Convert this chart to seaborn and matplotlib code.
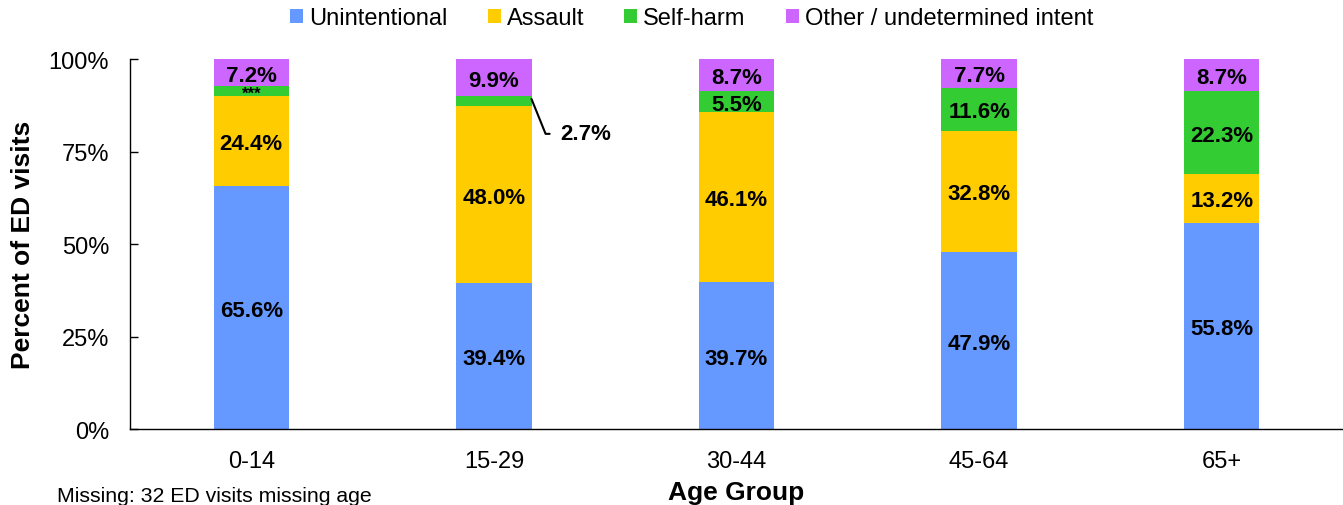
import matplotlib
matplotlib.use("Agg")
import matplotlib.pyplot as plt
import seaborn as sns
import pandas as pd
import numpy as np
from matplotlib.patches import Patch

age_groups = ["0-14", "15-29", "30-44", "45-64", "65+"]
unintentional = [65.6, 39.4, 39.7, 47.9, 55.8]
assault = [24.4, 48.0, 46.1, 32.8, 13.2]
self_harm = [2.8, 2.7, 5.5, 11.6, 22.3]
other = [7.2, 9.9, 8.7, 7.7, 8.7]
series_names = ["Unintentional", "Assault", "Self-harm", "Other / undetermined intent"]
colors = ["#6699FF", "#FFCC00", "#33CC33", "#CC66FF"]

sns.set_style("white")
plt.rcParams["font.family"] = ["Liberation Sans", "DejaVu Sans"]
plt.rcParams["text.color"] = "black"
plt.rcParams["axes.labelcolor"] = "black"
plt.rcParams["xtick.color"] = "black"
plt.rcParams["ytick.color"] = "black"

fig = plt.figure(figsize=(13.43, 5.06), dpi=100)
ax = fig.add_axes([0.0968, 0.150, 0.9032, 0.731])

series = [unintentional, assault, self_harm, other]
cum = np.cumsum(np.array(series), axis=0)
df = pd.DataFrame({"age": age_groups})
# draw from top layer down so lower layers overlay
for i in range(3, -1, -1):
    df["val"] = cum[i]
    sns.barplot(data=df, x="age", y="val", color=colors[i], width=0.31,
                saturation=1, ax=ax, linewidth=0)

ax.set_xlim(-0.5, 4.5)
ax.set_ylim(0, 100)
ax.set_yticks([0, 25, 50, 75, 100])
ax.set_yticklabels(["0%", "25%", "50%", "75%", "100%"], fontsize=17)
ax.tick_params(axis="x", labelsize=17, length=0, pad=15)
ax.tick_params(axis="y", left=True, length=5.5, width=1, direction="in", pad=15)
for s in ["top", "right"]:
    ax.spines[s].set_visible(False)
for s in ["left", "bottom"]:
    ax.spines[s].set_color("black")
    ax.spines[s].set_linewidth(1)
ax.set_xlabel("Age Group", fontsize=19, fontweight="bold", labelpad=5.5)
ax.set_ylabel("Percent of ED visits", fontsize=19, fontweight="bold", labelpad=9.5)

# data labels
for j in range(len(age_groups)):
    bottoms = [0] + list(cum[:-1, j])
    for i in range(4):
        v = series[i][j]
        yc = bottoms[i] + v / 2
        if i == 2 and j == 0:
            ax.text(j, yc - 0.5, "***", ha="center", va="center", fontsize=12, fontweight="bold")
        elif i == 2 and j == 1:
            ax.annotate(f"{v:.1f}%", xy=(j + 0.155, yc + 0.5), xytext=(j + 0.272, 80.5),
                        ha="left", va="center_baseline", fontsize=16, fontweight="bold",
                        arrowprops=dict(arrowstyle="-", color="black", lw=1.5,
                                        connectionstyle="angle,angleA=0,angleB=-68,rad=0",
                                        shrinkA=5, shrinkB=0))
        else:
            ax.text(j, yc, f"{v:.1f}%", ha="center", va="center_baseline", fontsize=16,
                    fontweight="bold")

handles = [Patch(facecolor=c, edgecolor="none") for c in colors]
fig.legend(handles, series_names, loc="upper center", bbox_to_anchor=(0.515, 1.026), ncol=4,
           frameon=False, fontsize=17, handlelength=0.55, handleheight=0.55,
           handletextpad=0.25, columnspacing=1.7)

fig.text(57 / 1343, 0.0, "Missing: 32 ED visits missing age", fontsize=15.3,
         ha="left", va="bottom")

fig.savefig("out.png", dpi=100)
